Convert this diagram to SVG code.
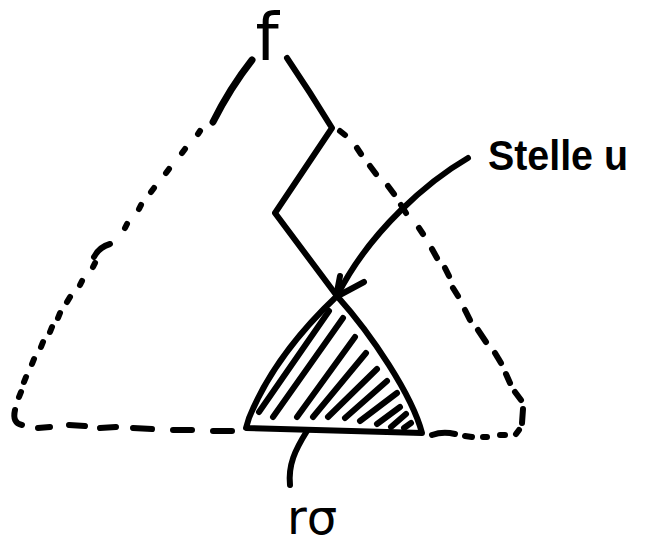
<svg xmlns="http://www.w3.org/2000/svg" width="655" height="550" viewBox="0 0 655 550">
<style>
.s{fill:none;stroke:#000;stroke-width:6;stroke-linecap:round;stroke-linejoin:round}
.d{fill:none;stroke:#000;stroke-width:6;stroke-linecap:round}
.h{fill:none;stroke:#000;stroke-width:6;stroke-linecap:round}
.t{fill:#000;font-family:"DejaVu Sans","Liberation Sans",sans-serif}
</style>
<rect width="655" height="550" fill="#fff"/>
<g id="outer-tree">
<g class="d">
<path d="M252,60 Q230,88 213,122" stroke-width="7"/>
<path d="M200,131 L198,134"/><path d="M185,149 L182,153"/><path d="M169,169 L166,173"/><path d="M154,188 L151,192"/>
<path d="M141,205 L139,209"/><path d="M127,224 L125,228"/>
<path d="M94,257 Q99,247 110,244"/>
<path d="M95,263 L93,267"/><path d="M82,281 L80,285"/><path d="M70,297 L67,302"/><path d="M60,313 L58,318"/>
<path d="M52,327 L50,332"/><path d="M43,342 L41,347"/><path d="M34,359 L32,364"/><path d="M26,377 L24,382"/><path d="M21,392 L19,397"/>
<path d="M15,410 Q12,423 22,425"/>
<path d="M38,428 L50,427"/><path d="M69,425 L85,426"/><path d="M100,428 L116,427"/><path d="M133,428 L152,429"/><path d="M173,430 L192,430"/><path d="M213,431 L232,431"/>
<path d="M345,135 L340,131"/>
<path d="M357,148 L361,154"/><path d="M370,166 L376,174"/><path d="M388,186 L394,194"/><path d="M401,205 L406,213"/>
<path d="M419,228 L423,234"/><path d="M432,249 L437,258"/><path d="M445,268 L449,276"/><path d="M453,288 L458,296"/>
<path d="M465,310 L470,320"/><path d="M478,330 L486,342"/><path d="M495,353 L501,363"/><path d="M506,374 L510,383"/>
<path d="M515,392 L521,400"/><path d="M523,409 L522,423"/><path d="M519,430 L516,434"/>
<path d="M500,435 L505,435"/><path d="M483,437 L487,437"/><path d="M465,436 L472,437"/><path d="M432,435 Q443,431 455,434"/>
</g>
</g>
<g id="path-to-u">
<path class="s" d="M287,58 Q310,92 332,128 L275,213 L337,296"/>
</g>
<g id="subtree-r-sigma">
<path class="s" d="M337,296 C300,331 268,371 249,418 L246,428 L422,433 C412,395 372,335 337,296 Z" fill="#fff" stroke-width="7"/>
<g class="h">
<path d="M259,412 L329,311"/><path d="M273,417 L343,318"/><path d="M297,417 L355,337"/><path d="M313,417 L366,353"/>
<path d="M328,417 L377,369"/><path d="M345,418 L387,381"/><path d="M360,421 L397,393"/><path d="M377,424 L400,407"/>
<path d="M391,427 L406,414"/><path d="M404,428 L411,423"/>
</g>
</g>
<g id="connectors">
<path class="s" d="M468,158 C430,180 370,230 337,296" stroke-width="4"/>
<path class="s" d="M340,276 L336,297 L364,282" stroke-width="5"/>
<path class="s" d="M307,431 C295,450 288,465 290,485"/>
</g>
<g id="label-f"><text class="t" x="267" y="60" font-size="66" text-anchor="middle">f</text></g>
<g id="label-stelle-u"><text class="t" x="488" y="170" font-size="42" font-weight="bold" textLength="140" lengthAdjust="spacingAndGlyphs" style="font-family:'Liberation Sans',sans-serif">Stelle u</text></g>
<g id="label-r-sigma"><text class="t" x="287" y="534" font-size="48">rσ</text></g>
</svg>
